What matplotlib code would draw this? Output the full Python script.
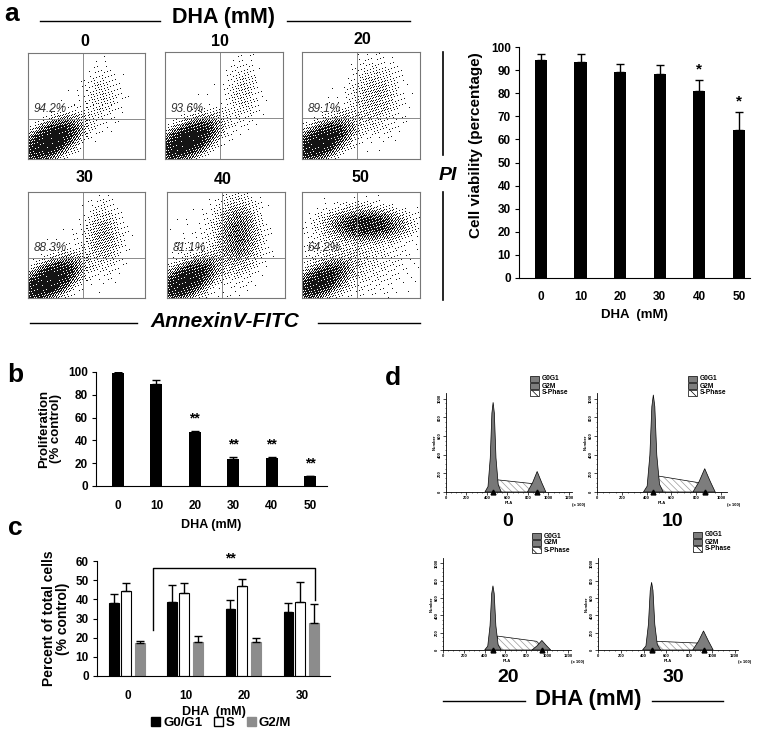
import numpy as np
import matplotlib
matplotlib.use('Agg')
import matplotlib.pyplot as plt
from matplotlib.patches import Rectangle, Polygon, Patch

plt.rcParams['font.family'] = ['Liberation Sans', 'DejaVu Sans']
plt.rcParams['font.weight'] = 'bold'
plt.rcParams['axes.labelweight'] = 'bold'
plt.rcParams['hatch.linewidth'] = 0.5

# ---------------- data ----------------
# panel a: flow cytometry (AnnexinV/PI)
flow_dose = ['0', '10', '20', '30', '40', '50']
flow_live_pct = ['94.2%', '93.6%', '89.1%', '88.3%', '81.1%', '64.2%']
live_cx = [0.19, 0.19, 0.16, 0.18, 0.16, 0.15]
live_cy = [0.17, 0.17, 0.16, 0.16, 0.16, 0.15]
live_weight = [1.5, 1.5, 1.3, 1.5, 1.2, 0.9]
apop_cx = [0.63, 0.66, 0.62, 0.64, 0.60, 0.55]
apop_cy = [0.60, 0.62, 0.58, 0.58, 0.60, 0.69]
apop_sx = [0.10, 0.08, 0.12, 0.09, 0.10, 0.17]
apop_sy = [0.16, 0.18, 0.19, 0.17, 0.18, 0.075]
apop_weight = [0.06, 0.07, 0.11, 0.14, 0.32, 0.70]
halo_weight = [0.004, 0.006, 0.01, 0.01, 0.025, 0.06]

# panel a: viability bar chart
viab_dose = ['0', '10', '20', '30', '40', '50']
viab_mean = [94.2, 93.6, 89.1, 88.3, 81.1, 64.2]
viab_err = [2.6, 3.2, 3.7, 4.0, 4.6, 7.8]
viab_sig = ['', '', '', '', '*', '*']

# panel b: proliferation
prol_dose = ['0', '10', '20', '30', '40', '50']
prol_mean = [99.5, 89.8, 47.0, 23.5, 24.5, 8.5]
prol_err = [0.6, 3.4, 1.6, 1.8, 0.6, 0.5]
prol_sig = ['', '', '**', '**', '**', '**']

# panel c: cell cycle distribution
cc_dose = ['0', '10', '20', '30']
cc_series = ['G0/G1', 'S', 'G2/M']
cc_g0g1 = [38.0, 38.8, 35.0, 33.5]
cc_g0g1_err = [4.8, 8.5, 4.7, 4.7]
cc_s = [44.5, 43.5, 46.7, 38.7]
cc_s_err = [3.8, 4.8, 3.7, 10.3]
cc_g2m = [17.0, 17.5, 18.0, 27.5]
cc_g2m_err = [1.5, 3.2, 2.0, 10.0]

# panel d: DNA histograms
hist_dose = ['0', '10', '20', '30']
g1_pos = [460, 455, 480, 471]
g1_height = [960, 1040, 740, 780]
g2_pos = [890, 870, 950, 927]
g2_height = [220, 250, 110, 220]
s_start = [130, 170, 160, 100]
s_end = [90, 100, 100, 80]

# ---------------- helpers ----------------
W, H = 764, 732
fig = plt.figure(figsize=(W / 100, H / 100), dpi=100)


def rect(x0, y0, x1, y1):
    return [x0 / W, 1 - y1 / H, (x1 - x0) / W, (y1 - y0) / H]


def fx(x):
    return x / W


def fy(y):
    return 1 - y / H


def ftext(x, y, s, **kw):
    kw.setdefault('ha', 'center')
    kw.setdefault('va', 'center')
    fig.text(fx(x), fy(y), s, **kw)


def fline(x0, x1, y0, y1, lw=1.0, color='black'):
    fig.add_artist(plt.Line2D([fx(x0), fx(x1)], [fy(y0), fy(y1)],
                              transform=fig.transFigure, color=color, lw=lw))


def gauss(X, Y, cx, cy, s1, s2, ang):
    a = np.deg2rad(ang)
    dx, dy = X - cx, Y - cy
    u = dx * np.cos(a) + dy * np.sin(a)
    v = -dx * np.sin(a) + dy * np.cos(a)
    return np.exp(-0.5 * (u ** 2 / s1 ** 2 + v ** 2 / s2 ** 2))


# ---------------- panel a: flow plots ----------------
ftext(12, 14, 'a', fontsize=19)
ftext(224, 18, 'DHA (mM)', fontsize=15.5)
fline(40, 160, 21, 21)
fline(287, 410, 21, 21)

flow_boxes = [(28, 53, 145, 159), (165, 52, 283, 159), (302, 52, 420, 159),
              (28, 192, 145, 298), (167, 192, 285, 298), (302, 192, 420, 298)]
title_pos = [(85, 41), (220, 42), (362, 40), (85, 178), (223, 180), (360, 178)]
for i, (x0, y0, x1, y1) in enumerate(flow_boxes):
    ax = fig.add_axes(rect(x0, y0, x1, y1))
    nx, ny = int(x1 - x0), int(y1 - y0)
    xs = (np.arange(nx) + 0.5) / nx
    ys = (np.arange(ny) + 0.5) / ny
    X, Y = np.meshgrid(xs, ys)
    D = (live_weight[i] * gauss(X, Y, live_cx[i], live_cy[i], 0.15, 0.075, 35)
         + apop_weight[i] * gauss(X, Y, apop_cx[i], apop_cy[i], apop_sx[i], apop_sy[i], 0)
         + halo_weight[i] * gauss(X, Y, 0.45, 0.42, 0.26, 0.26, 0))
    p = np.clip(1 - np.exp(-3.0 * D) - 0.01, 0, 1)
    # deterministic interleaved-gradient dither threshold
    I, J = np.meshgrid(np.arange(nx) + 7 * i, np.arange(ny) + 3 * i)
    thr = np.mod(52.9829189 * np.mod(0.06711056 * I + 0.00583715 * J, 1.0), 1.0)
    img = np.where(p > thr, 0.08, 1.0)
    ax.imshow(img, cmap='gray', vmin=0, vmax=1, extent=(0, 1, 0, 1), origin='lower',
              interpolation='nearest', aspect='auto')
    ax.axvline(0.47, color='#8a8a8a', lw=0.7)
    ax.axhline(0.38, color='#8a8a8a', lw=0.7)
    ax.set_xlim(0, 1)
    ax.set_ylim(0, 1)
    ax.set_xticks([])
    ax.set_yticks([])
    for s in ax.spines.values():
        s.set_color('#777777')
        s.set_linewidth(0.8)
    ax.text(0.19, 0.47, flow_live_pct[i], transform=ax.transAxes, ha='center', va='center',
            fontsize=8.5, style='italic', fontweight='normal', color='#333333')
    ftext(title_pos[i][0], title_pos[i][1], flow_dose[i], fontsize=11.5)

fline(443, 443, 52, 155, lw=1.2)
fline(443, 443, 192, 300, lw=1.2)
ftext(448, 175, 'PI', fontsize=14, style='italic')
ftext(225, 322, 'AnnexinV-FITC', fontsize=15, style='italic')
fline(30, 137, 323, 323)
fline(318, 420, 323, 323)

# ---------------- panel a: viability bars ----------------
ax = fig.add_axes(rect(519, 47, 750, 278))
x = np.arange(len(viab_dose))
ax.bar(x, viab_mean, width=0.31, color='black')
ax.errorbar(x, viab_mean, yerr=[np.zeros(len(x)), viab_err], fmt='none', ecolor='black',
            elinewidth=1, capsize=3, capthick=1)
for xi, m, e, s in zip(x, viab_mean, viab_err, viab_sig):
    if s:
        ax.text(xi, m + e + 4.5, s, ha='center', va='center', fontsize=11)
ax.set_xlim(-0.556, 5.28)
ax.set_ylim(0, 100)
ax.set_yticks(np.arange(0, 101, 10))
ax.set_xticks(x)
ax.set_xticklabels(viab_dose)
ax.spines['top'].set_visible(False)
ax.spines['right'].set_visible(False)
ax.tick_params(axis='x', length=0, pad=9, labelsize=8.5)
ax.tick_params(axis='y', length=3, pad=3, labelsize=8.5)
ax.set_ylabel('Cell viability (percentage)', fontsize=11)
ax.yaxis.set_label_coords(-0.155, 0.575)
ax.set_xlabel('DHA  (mM)', fontsize=9.5, labelpad=5)

# ---------------- panel b ----------------
ftext(15, 375, 'b', fontsize=19)
ax = fig.add_axes(rect(96, 372, 327, 486))
x = np.arange(len(prol_dose))
ax.bar(x, prol_mean, width=0.31, color='black')
ax.errorbar(x, prol_mean, yerr=[np.zeros(len(x)), prol_err], fmt='none', ecolor='black',
            elinewidth=1, capsize=3, capthick=1)
for xi, m, e, s in zip(x, prol_mean, prol_err, prol_sig):
    if s:
        ax.text(xi, m + e + 11, s, ha='center', va='center', fontsize=10)
ax.set_xlim(-0.573, 5.44)
ax.set_ylim(0, 100)
ax.set_yticks(np.arange(0, 101, 20))
ax.set_xticks(x)
ax.set_xticklabels(prol_dose)
ax.spines['top'].set_visible(False)
ax.spines['right'].set_visible(False)
ax.tick_params(axis='x', length=0, pad=10, labelsize=8.5)
ax.tick_params(axis='y', length=3, pad=3, labelsize=8.5)
ax.set_ylabel('Proliferation\n(% control)', fontsize=9.5, labelpad=4, linespacing=1.0)
ax.set_xlabel('DHA (mM)', fontsize=9, labelpad=5)

# ---------------- panel c ----------------
ftext(15, 528, 'c', fontsize=19)
ax = fig.add_axes(rect(97, 561, 330, 676))
x = np.arange(len(cc_dose))
bw = 0.17
offs = [-0.235, -0.03, 0.205]
vals = [cc_g0g1, cc_s, cc_g2m]
errs = [cc_g0g1_err, cc_s_err, cc_g2m_err]
fcs = ['black', 'white', '#8c8c8c']
ecs = ['black', 'black', '#8c8c8c']
for k in range(3):
    ax.bar(x + offs[k], vals[k], width=bw, color=fcs[k], edgecolor=ecs[k], linewidth=0.8,
           label=cc_series[k])
    ax.errorbar(x + offs[k], vals[k], yerr=[np.zeros(len(x)), errs[k]], fmt='none',
                ecolor='black', elinewidth=1, capsize=3, capthick=1)
ax.plot([0.43, 0.43, 3.22, 3.22], [24, 56.3, 56.3, 39.6], color='black', lw=1, clip_on=False)
ax.text(1.76, 57.5, '**', ha='center', va='bottom', fontsize=10)
ax.set_xlim(-0.534, 3.48)
ax.set_ylim(0, 60)
ax.set_yticks(np.arange(0, 61, 10))
ax.set_xticks(x)
ax.set_xticklabels(cc_dose)
ax.spines['top'].set_visible(False)
ax.spines['right'].set_visible(False)
ax.tick_params(axis='x', length=0, pad=10, labelsize=8.5)
ax.tick_params(axis='y', length=3, pad=3, labelsize=8.5)
ax.set_ylabel('Percent of total cells\n(% control)', fontsize=10, labelpad=4, linespacing=1.0)
ax.set_xlabel('DHA  (mM)', fontsize=9, labelpad=3)
handles = [Patch(facecolor=fcs[k], edgecolor='black' if k < 2 else '#8c8c8c') for k in range(3)]
fig.legend(handles, cc_series, loc='center', bbox_to_anchor=(fx(221), fy(723)), ncol=3,
           frameon=False, handlelength=0.7, handleheight=0.7, handletextpad=0.2,
           columnspacing=0.9, prop={'weight': 'bold', 'size': 9.5})

# ---------------- panel d ----------------
ftext(393, 378, 'd', fontsize=19)
hist_rects = [(446, 393, 572, 492), (597, 393, 727, 492), (443, 558, 571, 650), (598, 558, 738, 650)]
hist_xmax = [1230, 1050, 1230, 1230]
hist_tmax = [1200, 1000, 1200, 1200]
dose_pos = [(508, 522), (673, 522), (508, 677), (673, 677)]
leg_pos = [(534, 379), (692, 379), (536, 536), (697, 535)]
g1_dx = np.array([-80, -50, -28, -12, 0, 12, 28, 50, 80])
g1_fr = np.array([0, 0.06, 0.38, 0.88, 1, 0.88, 0.38, 0.08, 0])
g2_dx = np.array([-95, -45, 0, 45, 85])
g2_fr = np.array([0, 0.45, 1, 0.45, 0])
for i, (x0, y0, x1, y1) in enumerate(hist_rects):
    ax = fig.add_axes(rect(x0, y0, x1, y1))
    c1, c2 = g1_pos[i], g2_pos[i]
    # S-phase
    sverts = [(c1 + 10, 0), (c1 + 45, s_start[i]), (c2 - 50, s_end[i]), (c2 + 30, 0)]
    ax.add_patch(Polygon(sverts, closed=True, facecolor='white', edgecolor='#9a9a9a',
                         hatch='\\\\\\\\\\', lw=0))
    ax.add_patch(Polygon(sverts, closed=True, facecolor='none', edgecolor='black', lw=0.5))
    g2 = Polygon(np.column_stack([c2 + g2_dx, g2_height[i] * g2_fr]), closed=True,
                 facecolor='#7d7d7d', edgecolor='black', lw=0.5)
    ax.add_patch(g2)
    g1 = Polygon(np.column_stack([c1 + g1_dx, g1_height[i] * g1_fr]), closed=True,
                 facecolor='#777777', edgecolor='black', lw=0.5)
    ax.add_patch(g1)
    ax.plot([c1, c2], [0, 0], linestyle='none', marker='^', color='black', markersize=3.5,
            clip_on=False, zorder=5)
    ax.set_xlim(0, hist_xmax[i])
    ax.set_ylim(0, 1060)
    ax.spines['top'].set_visible(False)
    ax.spines['right'].set_visible(False)
    for s in ['left', 'bottom']:
        ax.spines[s].set_linewidth(0.6)
    ax.set_xticks(np.arange(0, hist_tmax[i] + 1, 200))
    ax.set_xticks(np.arange(0, hist_tmax[i] + 1, 50), minor=True)
    ax.set_yticks(np.arange(0, 1001, 200))
    ax.set_yticks(np.arange(0, 1001, 50), minor=True)
    ax.tick_params(which='major', length=2, width=0.5, labelsize=3, pad=1)
    ax.tick_params(which='minor', length=1, width=0.4)
    for lab in ax.get_yticklabels():
        lab.set_rotation(90)
        lab.set_va('center')
    ax.set_xlabel('PI-A', fontsize=3, labelpad=0.5)
    ax.set_ylabel('Number', fontsize=3, labelpad=1)
    ax.text(1.0, -0.13, '(x 100)', transform=ax.transAxes, fontsize=3, ha='left', va='center')
    ftext(dose_pos[i][0], dose_pos[i][1], hist_dose[i], fontsize=14)
    # legend
    lx, ly = leg_pos[i]
    for k, (lab, fc, hat) in enumerate([('G0G1', '#7d7d7d', None), ('G2M', '#7d7d7d', None),
                                         ('S-Phase', 'white', '\\\\\\\\')]):
        yy = ly + 7 * k
        fig.add_artist(Rectangle((fx(lx - 4), fy(yy + 3)), 9 / W, 6.5 / H, transform=fig.transFigure,
                                 facecolor=fc, edgecolor='black', lw=0.5, hatch=hat))
        fig.text(fx(lx + 8), fy(yy), lab, fontsize=4.8, ha='left', va='center')

ftext(588, 699, 'DHA (mM)', fontsize=16)
fline(443, 525, 701, 701)
fline(652, 723, 701, 701)

fig.savefig('out.png', dpi=100)
